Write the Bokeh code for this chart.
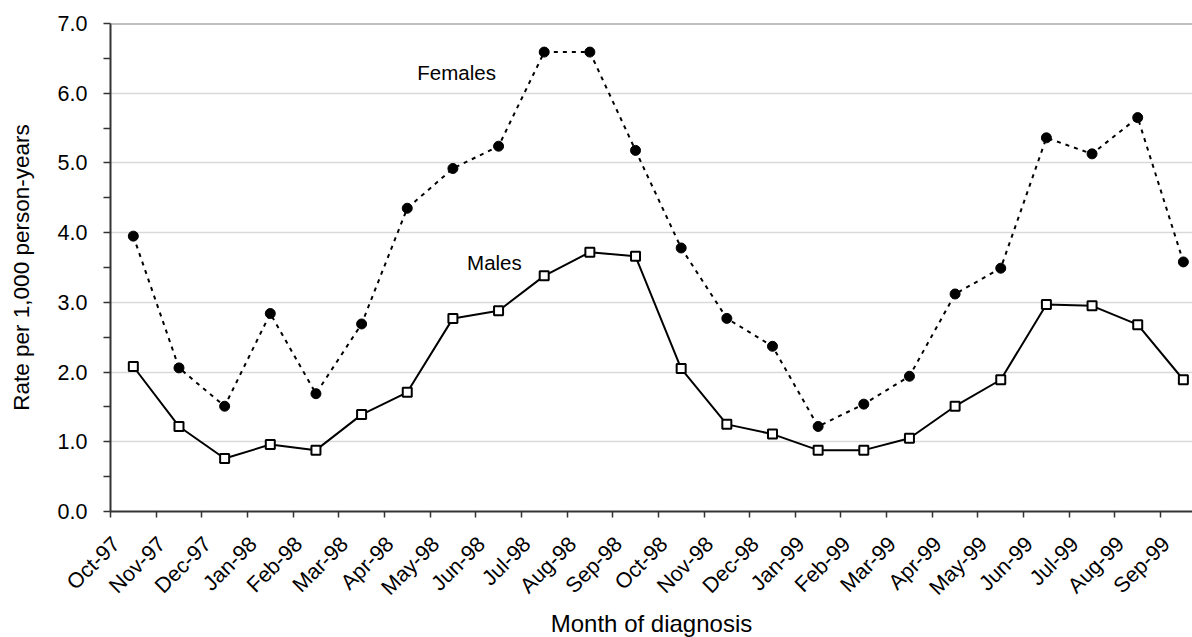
from bokeh.plotting import figure
from bokeh.models import Range1d, FixedTicker, Span, Label, ColumnDataSource
from bokeh.embed import file_html
from bokeh.resources import INLINE

months = ["Oct-97", "Nov-97", "Dec-97", "Jan-98", "Feb-98", "Mar-98", "Apr-98", "May-98",
          "Jun-98", "Jul-98", "Aug-98", "Sep-98", "Oct-98", "Nov-98", "Dec-98", "Jan-99",
          "Feb-99", "Mar-99", "Apr-99", "May-99", "Jun-99", "Jul-99", "Aug-99", "Sep-99"]
females = [3.95, 2.06, 1.51, 2.84, 1.69, 2.69, 4.35, 4.92, 5.24, 6.59, 6.59, 5.18,
           3.78, 2.77, 2.37, 1.22, 1.54, 1.94, 3.12, 3.49, 5.36, 5.13, 5.65, 3.58]
males = [2.08, 1.22, 0.76, 0.96, 0.88, 1.39, 1.71, 2.77, 2.88, 3.38, 3.72, 3.66,
         2.05, 1.25, 1.11, 0.88, 0.88, 1.05, 1.51, 1.89, 2.97, 2.95, 2.68, 1.89]
y_ticks = [0, 1, 2, 3, 4, 5, 6, 7]

FONT = "Liberation Sans"
LABEL_SHIFT = 0.375  # rotated labels sit slightly left of the category centre
idx = list(range(len(months)))
src = ColumnDataSource(dict(x=idx, f=females, m=males))

p = figure(frame_width=1082, frame_height=488, output_backend="svg", toolbar_location=None,
           x_range=Range1d(-0.5, 23.2), y_range=Range1d(0, 7),
           min_border_left=110, min_border_top=23, min_border_right=0, min_border_bottom=0,
           background_fill_color="white", border_fill_color="white")
p.outline_line_color = None

# grid
p.xgrid.visible = False
p.ygrid.ticker = FixedTicker(ticks=y_ticks[1:-1])
p.ygrid.grid_line_color = "#d9d9d9"
p.ygrid.grid_line_width = 1.5
p.add_layout(Span(location=y_ticks[-1], dimension="width", line_color="#808080", line_width=2))

# y axis
ya = p.yaxis[0]
ya.ticker = FixedTicker(ticks=y_ticks, minor_ticks=[t + 0.5 for t in y_ticks[:-1]])
ya.major_label_overrides = {t: f"{t:.1f}" for t in y_ticks}
ya.axis_label = "Rate per 1,000 person-years"
ya.axis_line_color = "#333333"
ya.axis_line_width = 2
ya.major_tick_line_color = "#333333"
ya.minor_tick_line_color = "#333333"
ya.major_tick_line_width = 1.5
ya.minor_tick_line_width = 1.5
ya.major_tick_out = 7
ya.major_tick_in = 0
ya.minor_tick_out = 7
ya.minor_tick_in = 0
ya.major_label_standoff = 16
ya.axis_label_standoff = 21
ya.major_label_text_font = FONT
ya.major_label_text_font_size = "21.5px"
ya.major_label_text_color = "black"
ya.axis_label_text_font = FONT
ya.axis_label_text_font_size = "22.5px"
ya.axis_label_text_font_style = "normal"
ya.axis_label_text_color = "black"

# x axis
xa = p.xaxis[0]
label_pos = [i - LABEL_SHIFT for i in idx]
xa.ticker = FixedTicker(ticks=label_pos, minor_ticks=[i - 0.5 for i in idx])
xa.major_label_overrides = {pos: m for pos, m in zip(label_pos, months)}
xa.major_label_orientation = 0.785398
xa.axis_label = "Month of diagnosis"
xa.axis_line_color = "#333333"
xa.axis_line_width = 2
xa.major_tick_out = 0
xa.major_tick_in = 0
xa.minor_tick_line_color = "#333333"
xa.minor_tick_line_width = 1.5
xa.minor_tick_out = 6
xa.minor_tick_in = 0
xa.major_label_standoff = 23
xa.axis_label_standoff = -1
xa.major_label_text_font = FONT
xa.major_label_text_font_size = "21.5px"
xa.major_label_text_color = "black"
xa.axis_label_text_font = FONT
xa.axis_label_text_font_size = "24px"
xa.axis_label_text_font_style = "normal"
xa.axis_label_text_color = "black"

# series
p.line("x", "f", source=src, line_color="black", line_width=2, line_dash="4 5")
p.scatter("x", "f", source=src, marker="circle", size=10, fill_color="black", line_color="black")
p.line("x", "m", source=src, line_color="black", line_width=2)
p.scatter("x", "m", source=src, marker="square", size=9, fill_color="white", line_color="black",
          line_width=2)

p.add_layout(Label(x=6.22, y=6.30, text="Females", text_font=FONT, text_font_size="20.5px",
                   text_baseline="middle", text_align="left", text_color="black"))
p.add_layout(Label(x=7.31, y=3.57, text="Males", text_font=FONT, text_font_size="20.5px",
                   text_baseline="middle", text_align="left", text_color="black"))

open("out.html", "w").write(file_html(p, INLINE))
